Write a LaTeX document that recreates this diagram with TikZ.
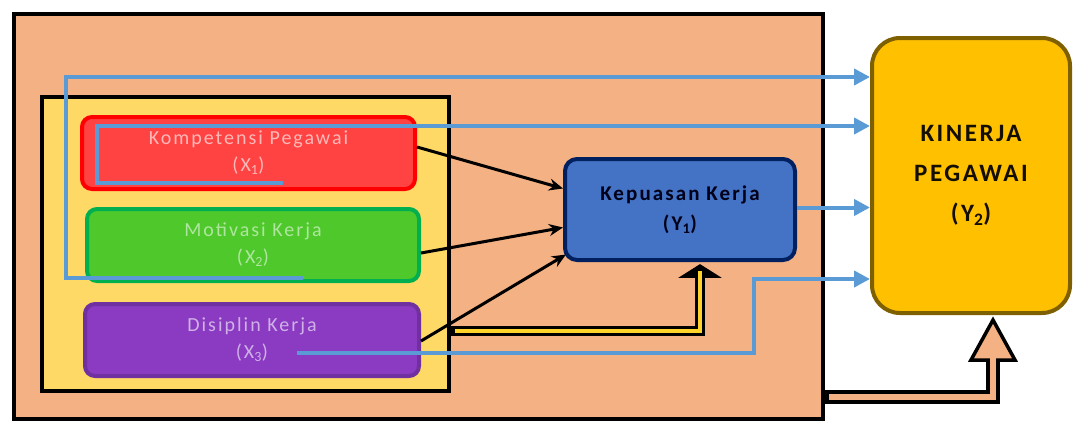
\documentclass[tikz,border=0pt]{standalone}
\usepackage{fontspec}
\setmainfont{Carlito}
\newfontfamily\labfont[LetterSpace=10]{Carlito}
\usetikzlibrary{arrows.meta}
\definecolor{salmon}{HTML}{F4B183}
\definecolor{ybox}{HTML}{FFD966}
\definecolor{redfill}{HTML}{FF4343}
\definecolor{redline}{HTML}{FF0000}
\definecolor{greenfill}{HTML}{4EC82A}
\definecolor{greenline}{HTML}{00B050}
\definecolor{purpfill}{HTML}{8A3BC2}
\definecolor{purpline}{HTML}{7030A0}
\definecolor{bluefill}{HTML}{4472C4}
\definecolor{blueline}{HTML}{002060}
\definecolor{goldfill}{HTML}{FFC000}
\definecolor{goldline}{HTML}{7F6000}
\definecolor{lineblue}{HTML}{5B9BD5}
\definecolor{hyel}{HTML}{FFD42A}
\begin{document}
\begin{tikzpicture}[x=1pt,y=-1pt,
  frame/.style={draw=black,line width=4pt,inner sep=0pt},
  xbox/.style={rounded corners=10pt,line width=4pt,inner sep=0pt,align=center,
    font=\labfont\fontsize{20}{27}\selectfont,minimum height=72pt},
  bline/.style={draw=lineblue,line width=4pt,line join=miter,
    -{Triangle[length=16pt,width=16pt]}},
  barrow/.style={draw=black,line width=3pt,-{Stealth[length=14pt,width=12pt]}}]
\useasboundingbox (0,0) rectangle (1074,423);
% frames
\node[frame,fill=salmon,minimum width=809pt,minimum height=405pt] (outer) at (418.5,216.5) {};
\node[frame,fill=ybox,minimum width=407pt,minimum height=294pt] (inner) at (245.5,244) {};
% X boxes
\node[xbox,draw=redline,fill=redfill,text=white!62!redfill,minimum width=333pt] (red) at (248.5,153)
  {Kompetensi Pegawai\\(X\textsubscript{1})};
\node[xbox,draw=greenline,fill=greenfill,text=white!55!greenfill,minimum width=332pt] (green) at (253,245)
  {Motivasi Kerja\\(X\textsubscript{2})};
\node[xbox,draw=purpline,fill=purpfill,text=white!60!purpfill,minimum width=334pt] (purple) at (252,340)
  {Disiplin Kerja\\(X\textsubscript{3})};
% Y boxes
\node[rounded corners=12pt,line width=4pt,draw=blueline,fill=bluefill,inner sep=0pt,align=center,
  minimum width=230pt,minimum height=101pt,text=black!90!blue,
  font=\labfont\bfseries\fontsize{21}{30}\selectfont] (blue) at (680,209.5)
  {Kepuasan Kerja\\(Y\textsubscript{1})};
\node[rounded corners=28pt,line width=4pt,draw=goldline,fill=goldfill,inner sep=0pt,align=center,
  minimum width=198pt,minimum height=275pt,text=black!85!goldline,
  font=\labfont\bfseries\fontsize{25}{40}\selectfont] (gold) at (971,175.5)
  {KINERJA\\PEGAWAI\\(Y\textsubscript{2})};
% black arrows
\draw[barrow] ([yshift=6pt]red.east) -- ([yshift=21pt]blue.west);
\draw[barrow] ([yshift=-8pt]green.east) -- ([yshift=-18pt]blue.west);
\draw[barrow] ([yshift=-1pt]purple.east) -- ([yshift=-45pt,xshift=3pt]blue.west);
% blue lines
\coordinate (s1) at (303,278);
\coordinate (s2) at (283,183);
\coordinate (s4) at (297,353);
\draw[bline] (s1) -- (66,278) -- (66,77) -- (66,77 -| gold.west);
\draw[bline] (s2) -- (97,183) -- (97,126) -- (97,126 -| gold.west);
\draw[bline] ([yshift=2pt]blue.east) -- ([yshift=2pt]blue.east -| gold.west);
\draw[bline] (s4) -- (754,353) -- (754,279) -- (754,279 -| gold.west);
% hollow yellow arrow (inner box -> Y1)
\draw[line width=10pt,black,line join=miter] (451,331) -- (700,331) -- (700,277);
\draw[black,line width=1.5pt,fill=black,line join=miter] (681,277) -- (700,265) -- (719,277) -- cycle;
\draw[line width=4pt,hyel,line join=miter] (455,331) -- (700,331) -- (700,271);
% hollow salmon arrow (outer box -> Y2)
\draw[line width=14pt,black,line join=miter] (825,397) -- (993,397) -- (993,360);
\draw[black,line width=3.5pt,fill=salmon,line join=miter] (971,360) -- (993,320) -- (1015,360) -- cycle;
\draw[line width=6pt,salmon,line join=miter] (829,397) -- (993,397) -- (993,355);
\end{tikzpicture}
\end{document}
